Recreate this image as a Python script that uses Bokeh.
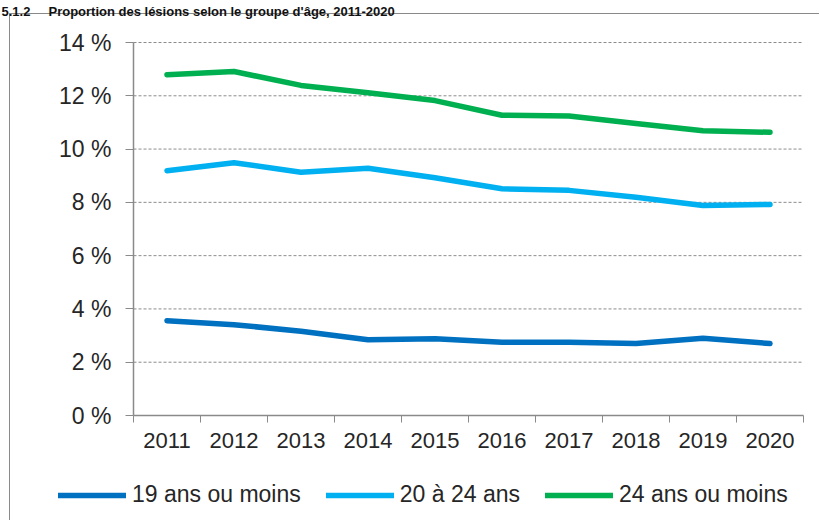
from bokeh.plotting import figure
from bokeh.models import Legend, LegendItem, FixedTicker, Range1d, Label
from bokeh.embed import file_html
from bokeh.resources import INLINE

title_text = "5.1.2\u00a0\u00a0\u00a0\u00a0\u00a0Proportion des lésions selon le groupe d'âge, 2011-2020"
years = [2011, 2012, 2013, 2014, 2015, 2016, 2017, 2018, 2019, 2020]
series_names = ["19 ans ou moins", "20 à 24 ans", "24 ans ou moins"]
age_19_moins = [3.56, 3.41, 3.16, 2.84, 2.88, 2.75, 2.75, 2.70, 2.90, 2.70]
age_20_24 = [9.19, 9.49, 9.13, 9.28, 8.92, 8.51, 8.45, 8.19, 7.88, 7.92]
age_24_moins = [12.79, 12.91, 12.39, 12.11, 11.82, 11.27, 11.24, 10.96, 10.69, 10.63]
y_ticks = [0, 2, 4, 6, 8, 10, 12, 14]

colors = ["#0070C0", "#00B0F0", "#00B050"]
FONT = "Liberation Sans"
GREY = "#8a8a8a"

# canvas / plotting-area geometry (pixels)
W, H = 819, 520
AX_LEFT, AX_RIGHT = 133, 803     # x of category 0 edge and last edge
AX_TOP, AX_BOTTOM = 42, 415      # y of 14 % and 0 %

n = len(years)
ppx = (AX_RIGHT - AX_LEFT) / n
ppy = (AX_BOTTOM - AX_TOP) / y_ticks[-1]
x_range = Range1d(-AX_LEFT / ppx, n + (W - AX_RIGHT) / ppx)
y_range = Range1d(-(H - AX_BOTTOM) / ppy, y_ticks[-1] + AX_TOP / ppy)

xpos = [i + 0.5 for i in range(n)]

p = figure(frame_width=W, frame_height=H, output_backend="svg", toolbar_location=None,
           x_range=x_range, y_range=y_range,
           min_border_left=0, min_border_right=0, min_border_top=0, min_border_bottom=0)
p.outline_line_color = None
p.background_fill_alpha = 0
p.border_fill_alpha = 0
p.xgrid.visible = False
p.ygrid.visible = False
# outer frame lines (left and top) drawn as the host's CSS background
p.styles = {
    "background": (f"linear-gradient({GREY},{GREY}) 9px 13px / 1px calc(100% - 13px) no-repeat, "
                   f"linear-gradient({GREY},{GREY}) 9px 13px / calc(100% - 9px) 1px no-repeat, white")
}

# dashed horizontal gridlines
grid_y = [v for v in y_ticks if v > 0]
p.segment(x0=[0] * len(grid_y), x1=[n] * len(grid_y), y0=grid_y, y1=grid_y,
          line_color="#8c8c8c", line_dash="3 2", line_width=1)

renderers = []
for vals, col in zip([age_19_moins, age_20_24, age_24_moins], colors):
    r = p.line(xpos, vals, line_color=col, line_width=5.5, line_cap="round", line_join="round")
    renderers.append(r)

# x axis at y = 0: labels at category centres, ticks at category boundaries
p.xaxis.fixed_location = 0
p.xaxis.bounds = (0, n)
p.xaxis.ticker = FixedTicker(ticks=xpos, minor_ticks=list(range(n + 1)))
p.xaxis.major_label_overrides = {x: str(y) for x, y in zip(xpos, years)}
p.xaxis.major_tick_out = 0
p.xaxis.major_tick_in = 0
p.xaxis.minor_tick_out = 7
p.xaxis.minor_tick_in = 0
p.xaxis.minor_tick_line_color = GREY
p.xaxis.axis_line_color = GREY
p.xaxis.axis_line_width = 1.5
p.xaxis.major_label_text_font = FONT
p.xaxis.major_label_text_font_size = "22px"
p.xaxis.major_label_text_color = "#262626"
p.xaxis.major_label_standoff = 10

# y axis at x = 0
p.yaxis.fixed_location = 0
p.yaxis.bounds = (0, y_ticks[-1])
p.yaxis.ticker = FixedTicker(ticks=y_ticks, minor_ticks=[])
p.yaxis.major_label_overrides = {v: f"{v} %" for v in y_ticks}
p.yaxis.major_tick_out = 8
p.yaxis.major_tick_in = 0
p.yaxis.major_tick_line_color = GREY
p.yaxis.axis_line_color = GREY
p.yaxis.axis_line_width = 1.5
p.yaxis.major_label_text_font = FONT
p.yaxis.major_label_text_font_size = "23px"
p.yaxis.major_label_text_color = "#262626"
p.yaxis.major_label_standoff = 14

items = [LegendItem(label=s, renderers=[r]) for s, r in zip(series_names, renderers)]
legend = Legend(items=items, orientation="horizontal", location=(58, 12),
                glyph_width=68, glyph_height=24, label_standoff=6, spacing=25,
                padding=0, margin=0, border_line_color=None,
                background_fill_alpha=0,
                label_text_font=FONT, label_text_font_size="23px",
                label_text_color="#262626", label_height=24)
p.add_layout(legend, "center")

# title (cropped in the source image; kept whole and small in the top strip)
title_label = Label(x=1, y=H - 11, x_units="screen", y_units="screen", text=title_text,
                    text_font=FONT, text_font_style="bold", text_font_size="13px",
                    text_color="#111111", text_baseline="alphabetic", text_align="left")
p.add_layout(title_label)

open("out.html", "w").write(file_html(p, INLINE))
